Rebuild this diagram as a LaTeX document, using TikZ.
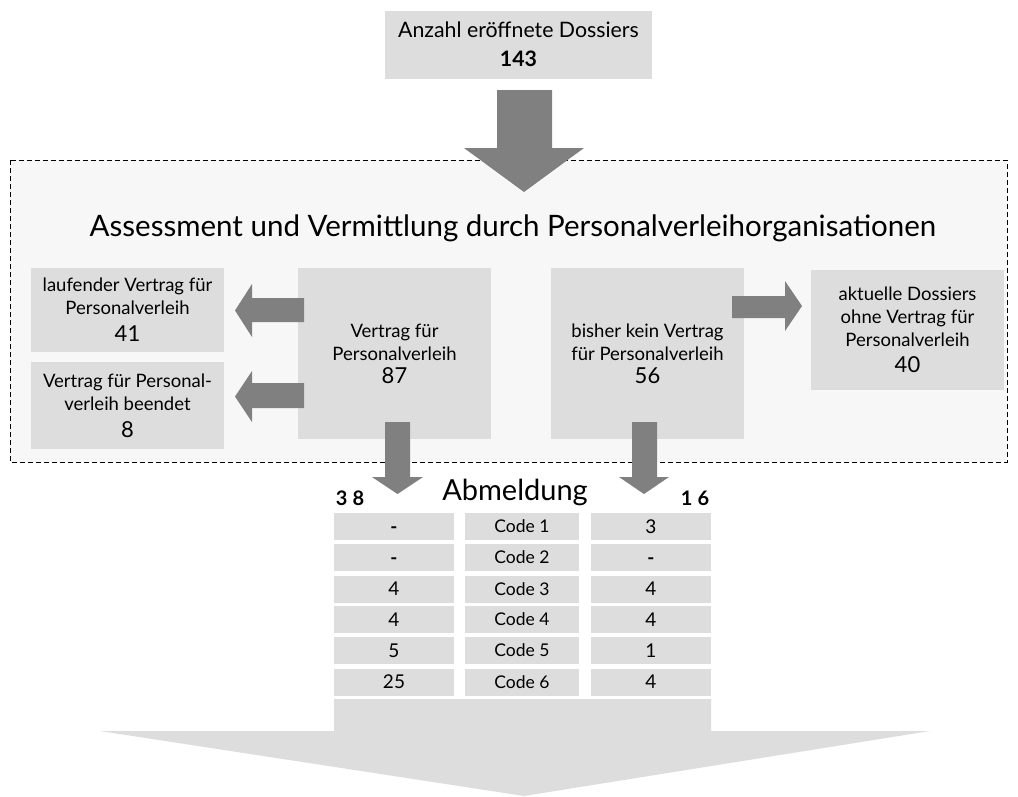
\documentclass[tikz,border=0pt]{standalone}
\usepackage{fontspec}
\setmainfont{Lato}
\definecolor{boxgray}{HTML}{DDDDDD}
\definecolor{arrgray}{HTML}{808080}
\definecolor{bggray}{HTML}{F7F7F7}
\newcommand{\txt}{\fontsize{18.5}{23}\selectfont}
\newcommand{\num}{\fontsize{22}{24}\selectfont}
\begin{document}
\begin{tikzpicture}[x=1pt,y=-1pt,
  box/.style={fill=boxgray, inner sep=0pt, align=center, font=\txt},
  blockarrow/.style={fill=arrgray, draw=none},
  cell/.style={fill=boxgray, inner sep=0pt, minimum height=27pt, text height=13.7pt, text depth=0pt, font=\fontsize{19}{22}\selectfont},
  codecell/.style={cell, minimum width=114pt, text height=12.6pt, font=\fontsize{17.5}{20}\selectfont},
  numcell/.style={cell, minimum width=120pt}]
\useasboundingbox (0,0) rectangle (1018,796);

% dashed frame
\draw[fill=bggray, line width=1pt, dash pattern=on 5pt off 3pt] (10,160) rectangle (1007,462);

% top box and arrow
\node[box, minimum width=267pt, minimum height=68pt, font=\fontsize{21.3}{29}\selectfont] (top) at (518.5,44.5)
  {Anzahl eröffnete Dossiers\\ \textbf{143}};
\fill[blockarrow] (497,90) -- (552,90) -- (552,148) -- (584,148) -- (524,192) -- (464,148) -- (497,148) -- cycle;

\node[font=\fontsize{29.5}{32}\selectfont] (title) at (513,228)
  {Assessment und Vermittlung durch Personalverleihorganisationen};

% boxes
\node[box, minimum width=193pt, minimum height=84pt] (a1) at (127.5,310)
  {laufender Vertrag für\\ Personalverleih\\[4pt] {\num 41}};
\node[box, minimum width=193pt, minimum height=87pt] (a2) at (127.5,405.5)
  {Vertrag für Personal-\\ verleih beendet\\[4pt] {\num 8}};
\node[box, minimum width=193pt, minimum height=171pt] (b1) at (394.5,353.5)
  {Vertrag für\\ Personalverleih\\ {\num 87}};
\node[box, minimum width=193pt, minimum height=171pt] (b2) at (647.5,353.5)
  {bisher kein Vertrag\\ für Personalverleih\\ {\num 56}};
\node[box, minimum width=193pt, minimum height=120pt] (c) at (907.5,330)
  {aktuelle Dossiers\\ ohne Vertrag für\\ Personalverleih\\[3pt] {\num 40}};

% block arrows
\fill[blockarrow] (304,298) -- (252,298) -- (252,284) -- (235,310.5) -- (252,337) -- (252,322) -- (304,322) -- cycle;
\fill[blockarrow] (304,383) -- (252,383) -- (252,371) -- (235,396.5) -- (252,422) -- (252,408) -- (304,408) -- cycle;
\fill[blockarrow] (732,296) -- (785,296) -- (785,281) -- (802,306) -- (785,331) -- (785,318) -- (732,318) -- cycle;
\fill[blockarrow] (385,422) -- (410,422) -- (410,477) -- (423,477) -- (397.5,494) -- (372,477) -- (385,477) -- cycle;
\fill[blockarrow] (632,422) -- (657,422) -- (657,477) -- (669,477) -- (644,494) -- (619,477) -- (632,477) -- cycle;

% Abmeldung header
\node[font=\bfseries\fontsize{20}{22}\selectfont] (n38) at (350,498) {3\hspace{5pt}8};
\node[font=\bfseries\fontsize{20}{22}\selectfont] (n16) at (695,498) {1\hspace{5pt}6};
\node[font=\fontsize{29}{32}\selectfont] (abm) at (515,492) {Abmeldung};

% big bottom arrow
\fill[boxgray] (334,699) -- (711,699) -- (711,731) -- (930,731) -- (524,796) -- (100,731) -- (334,731) -- cycle;

% table
\foreach \y/\l/\r [count=\i] in {526.5/\textbf{-}/3, 557.5/\textbf{-}/\textbf{-}, 589/4/4, 619.5/4/4, 650.5/5/1, 682/25/4} {
  \node[numcell] (l\i) at (394,\y) {\l};
  \node[codecell] (m\i) at (522,\y) {Code \i};
  \node[numcell] (r\i) at (651,\y) {\r};
}
\end{tikzpicture}
\end{document}
